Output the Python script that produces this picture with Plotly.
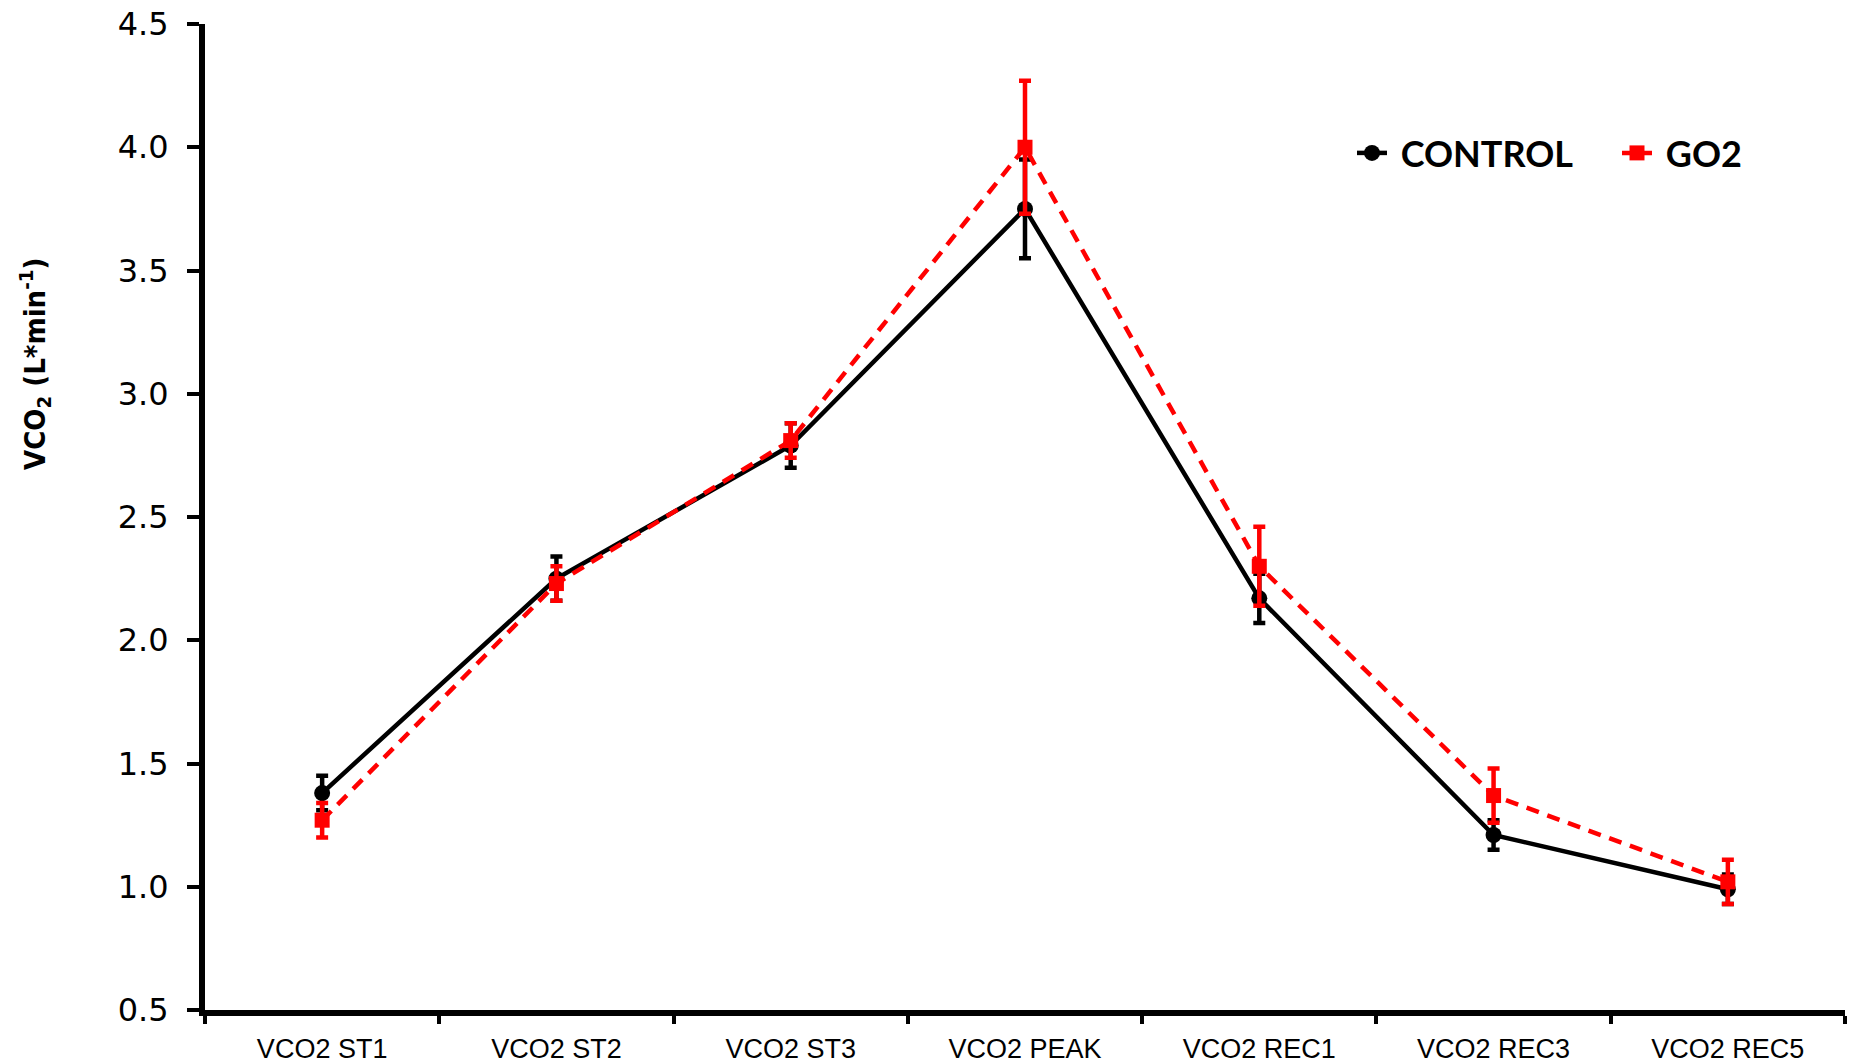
import plotly.graph_objects as go

categories = ["VCO2 ST1", "VCO2 ST2", "VCO2 ST3", "VCO2 PEAK", "VCO2 REC1", "VCO2 REC3", "VCO2 REC5"]
control_vals = [1.38, 2.25, 2.79, 3.75, 2.17, 1.21, 0.99]
control_err = [0.07, 0.09, 0.09, 0.20, 0.10, 0.06, 0.06]
go2_vals = [1.27, 2.23, 2.81, 4.00, 2.30, 1.37, 1.02]
go2_err = [0.07, 0.07, 0.07, 0.27, 0.16, 0.11, 0.09]
y_ticks = [0.5, 1.0, 1.5, 2.0, 2.5, 3.0, 3.5, 4.0, 4.5]
y_tick_text = ["0.5", "1.0", "1.5", "2.0", "2.5", "3.0", "3.5", "4.0", "4.5"]

W, H = 1854, 1064
L, R, T, B = 205, 9, 24, 54

fig = go.Figure()
fig.add_trace(go.Scatter(
    x=categories, y=control_vals, name="\u00a0CONTROL", mode="lines+markers",
    line=dict(color="black", width=4.5),
    marker=dict(symbol="circle", size=16, color="black"),
    error_y=dict(type="data", array=control_err, visible=True, color="black", thickness=4.5, width=6),
))
fig.add_trace(go.Scatter(
    x=categories, y=go2_vals, name="\u00a0GO2", mode="lines+markers",
    line=dict(color="#ff0000", width=4.5, dash="13px,9px"),
    marker=dict(symbol="square", size=15, color="#ff0000"),
    error_y=dict(type="data", array=go2_err, visible=True, color="#ff0000", thickness=4.5, width=6),
))

pw = W - L - R
ph = H - T - B

fig.add_annotation(
    text="<b>VCO<sub>2</sub> (L*min<sup>-1</sup>)</b>",
    xref="paper", yref="paper",
    x=(35 - L) / pw, y=(H - B - 364) / ph,
    xanchor="center", yanchor="middle", textangle=-90, showarrow=False,
    font=dict(family="DejaVu Sans Condensed, Liberation Sans, sans-serif", size=29, color="black"),
)

fig.update_layout(
    width=W, height=H,
    margin=dict(l=L, r=R, t=T, b=B, pad=0, autoexpand=False),
    paper_bgcolor="white", plot_bgcolor="white",
    showlegend=True,
    legend=dict(
        orientation="h", x=(1352 - L) / pw, y=(H - B - 153) / ph,
        xanchor="left", yanchor="middle",
        font=dict(family="Lato, Open Sans, sans-serif", size=36, color="black", weight="bold"),
        bgcolor="rgba(0,0,0,0)", itemwidth=30, tracegroupgap=0,
        entrywidth=220, entrywidthmode="pixels",
    ),
    xaxis=dict(
        type="category", range=[-0.5, 6.5], tickson="boundaries",
        showline=True, linecolor="black", linewidth=6,
        ticks="outside", ticklen=8, tickwidth=4, tickcolor="black",
        showgrid=False, zeroline=False, automargin=False,
        tickfont=dict(family="Liberation Sans Narrow, Liberation Sans, sans-serif", size=27, color="black"),
        ticklabelstandoff=10,
    ),
    yaxis=dict(
        range=[0.5, 4.5], tickvals=y_ticks, ticktext=y_tick_text,
        showline=True, linecolor="black", linewidth=6,
        ticks="outside", ticklen=12, tickwidth=4, tickcolor="black",
        showgrid=False, zeroline=False, automargin=False,
        tickfont=dict(family="DejaVu Sans, sans-serif", size=32, color="black"),
        ticklabelstandoff=12,
    ),
)

fig.write_html("out.html")
